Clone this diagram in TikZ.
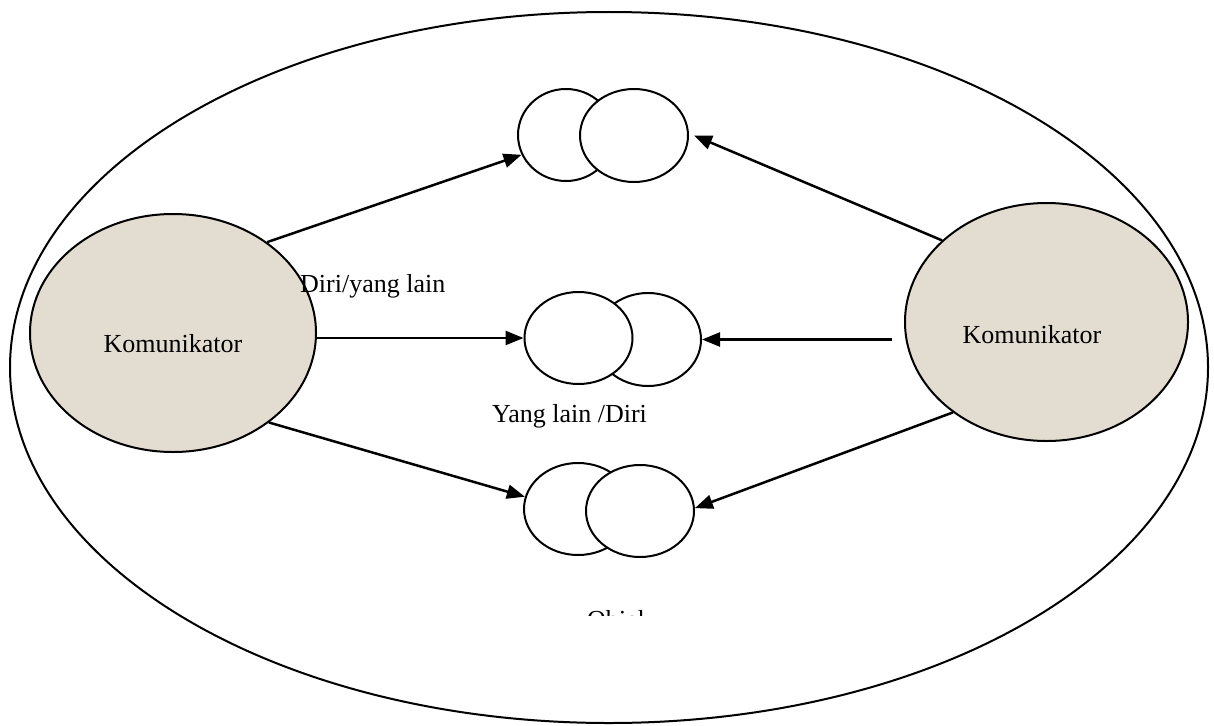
\documentclass[tikz,border=0pt]{standalone}
\usepackage{fontspec}
\setmainfont{Liberation Serif}
\usetikzlibrary{shapes.geometric,arrows.meta}
\definecolor{beige}{RGB}{227,220,208}
\begin{document}
\begin{tikzpicture}[x=1pt,y=-1pt,
  every node/.style={font=\fontsize{26}{30}\selectfont},
  outerell/.style={ellipse,draw,line width=2pt,inner sep=0pt,minimum width=1198pt,minimum height=711pt},
  komm/.style={ellipse,draw,line width=2pt,fill=beige,inner sep=0pt,minimum width=283pt,minimum height=238pt},
  bub/.style={ellipse,draw,line width=2pt,fill=white,inner sep=0pt,minimum height=92pt},
  txt/.style={inner sep=0pt},
  arr/.style={line width=2.5pt,-{Triangle[length=18pt,width=14pt]}}]
\useasboundingbox (0,0) rectangle (1214,725);
\node[outerell] (outer) at (609,367.5) {};
\node[komm,minimum width=286pt] (L) at (173,333) {};
\node[komm] (R) at (1046.5,322) {};
% bubble pairs
\node[bub,minimum width=96pt] (T1) at (566,135) {};
\node[bub,minimum width=108pt,minimum height=93pt] (T2) at (634,135.5) {};
\node[bub,minimum width=106pt,minimum height=93pt] (M2) at (648,339.5) {};
\node[bub,minimum width=108pt] (M1) at (578.5,338) {};
\node[bub,minimum width=108pt] (B1) at (578,509) {};
\node[bub,minimum width=108pt] (B2) at (640,511) {};
% texts
\node[txt,anchor=base] (kl) at (173,352.7) {Komunikator};
\node[txt,anchor=base] (kr) at (1032,343) {Komunikator};
\node[txt,anchor=base west] (d1) at (300,292) {Diri/yang lain};
\node[txt,anchor=base] (d2) at (569.5,422) {Yang lain /Diri};
\begin{scope}
\clip (0,0) rectangle (1214,615);
\node[txt,anchor=base west] (obj) at (587,628) {Objek};
\end{scope}
% arrows
\coordinate (rm) at ([xshift=-12pt]R.west |- M2.east);
\draw[arr] (L.44) -- (T1.204);
\draw[arr] (L.east |- M1.west) -- (M1.west);
\draw[arr] (L.-43.5) -- (B1.167);
\draw[arr] (R.142.4) -- ([xshift=5pt]T2.east);
\draw[arr] (rm) -- (M2.east);
\draw[arr] (R.224.6) -- (B2.3);
\end{tikzpicture}
\end{document}
